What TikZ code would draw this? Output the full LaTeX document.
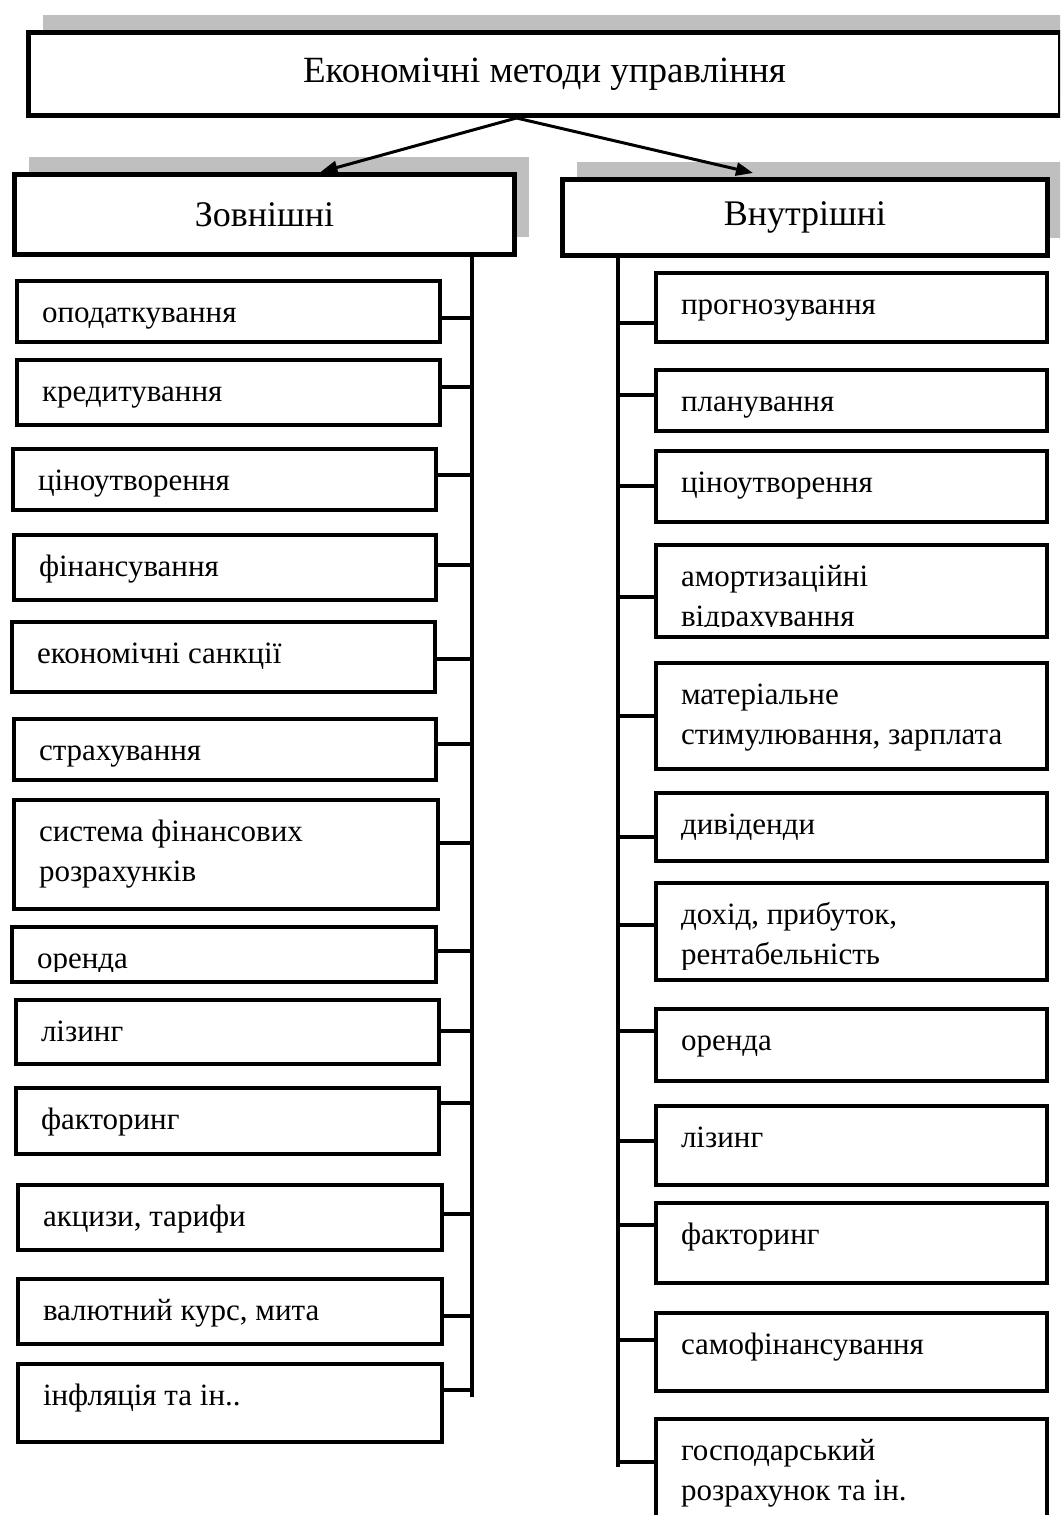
\documentclass[tikz,border=0pt]{standalone}
\usepackage{fontspec}
\setmainfont{Liberation Serif}
\usetikzlibrary{arrows.meta,shadows}
\newcommand\itemfont{\fontsize{31}{40}\selectfont}
\newcommand\headfont{\fontsize{36}{42}\selectfont}
\colorlet{shadowgray}{black!25}
\begin{document}
\begin{tikzpicture}[x=1pt,y=-1pt,line join=miter,>={Triangle[length=17pt,width=13pt]},
	headbox/.style={draw,line width=5pt,fill=white,anchor=north west,inner sep=0pt,font=\headfont,
		general shadow={fill=shadowgray,shadow xshift=14pt,shadow yshift=18pt}},
	itembox/.style={draw,line width=4pt,fill=white,anchor=north west,inner sep=0pt,
		path picture={
			\clip ([yshift=11pt]path picture bounding box.south west) rectangle (path picture bounding box.north east);
			\node[anchor=north west,inner sep=0pt,minimum size=0pt,align=left,font=\itemfont]
			at ([shift={(23pt,-11pt)}]path picture bounding box.north west) {\strut #1};}},
	branch/.style={line width=4pt}]
	\clip (0,0) rectangle (1060,1515);
	% headers
	\node[headbox,minimum width=1032,minimum height=83,font=\fontsize{37}{42}\selectfont] (title) at (26,30) {Економічні методи управління};
	\node[headbox,minimum width=500,minimum height=80] (ext) at (12,172) {Зовнішні};
	\node[headbox,minimum width=485,minimum height=76] (int) at (560,177) {Внутрішні};
	\draw[->,line width=3pt] ([xshift=-28pt]title.south) -- ([xshift=56pt]ext.north);
	\draw[->,line width=3pt] ([xshift=-28pt]title.south) -- ([xshift=-52pt,yshift=4pt]int.north);
	% external methods
	\node[itembox={оподаткування},minimum width=423,minimum height=61] (z1) at (15,279) {};
	\node[itembox={кредитування},minimum width=423,minimum height=65] (z2) at (15,358) {};
	\node[itembox={ціноутворення},minimum width=423,minimum height=61] (z3) at (11,447) {};
	\node[itembox={фінансування},minimum width=422,minimum height=65] (z4) at (12,533) {};
	\node[itembox={економічні санкції},minimum width=423,minimum height=70] (z5) at (10,620) {};
	\node[itembox={страхування},minimum width=422,minimum height=61] (z6) at (12,717) {};
	\node[itembox={система фінансових\\розрахунків},minimum width=424,minimum height=109] (z7) at (12,798) {};
	\node[itembox={оренда},minimum width=424,minimum height=55] (z8) at (10,925) {};
	\node[itembox={лізинг},minimum width=423,minimum height=64] (z9) at (14,998) {};
	\node[itembox={факторинг},minimum width=423,minimum height=66] (z10) at (14,1086) {};
	\node[itembox={акцизи, тарифи},minimum width=424,minimum height=65] (z11) at (16,1183) {};
	\node[itembox={валютний курс, мита},minimum width=424,minimum height=65] (z12) at (16,1277) {};
	\node[itembox={інфляція та ін..},minimum width=424,minimum height=78] (z13) at (16,1362) {};
	% internal methods
	\node[itembox={прогнозування},minimum width=391,minimum height=69] (v1) at (654,271) {};
	\node[itembox={планування},minimum width=391,minimum height=61] (v2) at (654,368) {};
	\node[itembox={ціноутворення},minimum width=391,minimum height=71] (v3) at (654,449) {};
	\node[itembox={амортизаційні\\відрахування},minimum width=391,minimum height=92] (v4) at (654,543) {};
	\node[itembox={матеріальне\\стимулювання, зарплата},minimum width=391,minimum height=106] (v5) at (654,661) {};
	\node[itembox={дивіденди},minimum width=391,minimum height=68] (v6) at (654,791) {};
	\node[itembox={дохід, прибуток,\\рентабельність},minimum width=391,minimum height=97] (v7) at (654,881) {};
	\node[itembox={оренда},minimum width=391,minimum height=72] (v8) at (654,1007) {};
	\node[itembox={лізинг},minimum width=391,minimum height=79] (v9) at (654,1104) {};
	\node[itembox={факторинг},minimum width=391,minimum height=80] (v10) at (654,1201) {};
	\node[itembox={самофінансування},minimum width=391,minimum height=78] (v11) at (654,1311) {};
	\node[itembox={господарський\\розрахунок та ін.},minimum width=391,minimum height=130] (v12) at (654,1417) {};
	% spines
	\coordinate (lb) at (472,1397);
	\coordinate (rb) at (618,1467);
	\draw[branch] (lb |- ext.south) -- (lb);
	\draw[branch] (rb |- int.south) -- (rb);
	\foreach \n/\ty in {z1/318,z2/387,z3/475,z4/565,z5/659,z6/744,z7/843,z8/951,z9/1031,z10/1103,z11/1214,z12/1316,z13/1390}{
		\coordinate (t) at (0,\ty);
		\draw[branch] (\n.east |- t) -- (lb |- t);
	}
	\foreach \n/\ty in {v1/323,v2/395,v3/486,v4/597,v5/716,v6/837,v7/925,v8/1031,v9/1141,v10/1225,v11/1340,v12/1462}{
		\coordinate (t) at (0,\ty);
		\draw[branch] (rb |- t) -- (\n.west |- t);
	}
\end{tikzpicture}
\end{document}
